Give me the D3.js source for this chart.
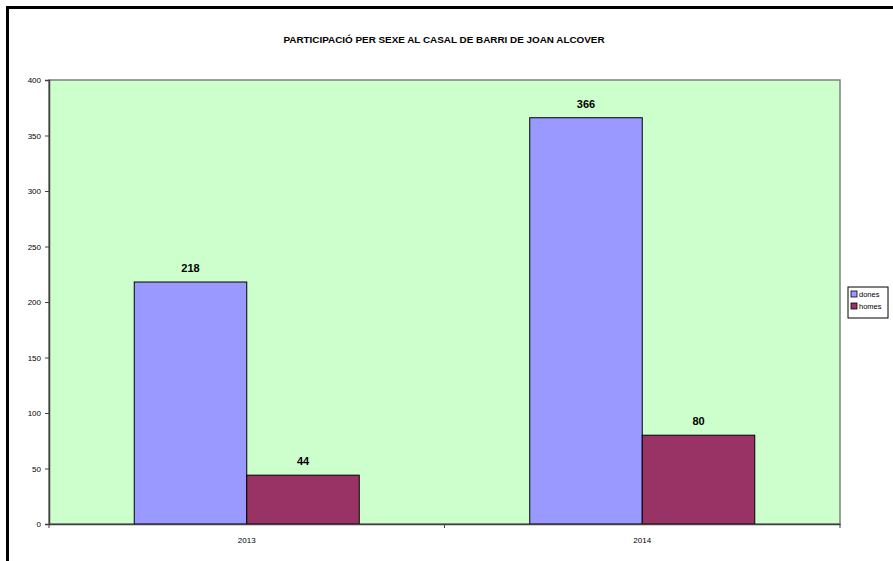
<!DOCTYPE html>
<html><head><meta charset="utf-8">
<script src="https://cdn.jsdelivr.net/npm/d3@7"></script>
<style>body{margin:0;background:#fff}svg{display:block}</style>
</head><body>
<svg id="c" width="893" height="561"></svg>
<script>
const title = "PARTICIPACIÓ PER SEXE AL CASAL DE BARRI DE JOAN ALCOVER";
const years = ["2013", "2014"];
const seriesNames = ["dones", "homes"];
const dones = [218, 366];
const homes = [44, 80];
const yTicks = [0, 50, 100, 150, 200, 250, 300, 350, 400];
const colors = ["#9999FF", "#993366"];

const svg = d3.select("#c");
const L = 49, R = 840, T = 80, B = 524;
const font = "'Liberation Sans', Arial, sans-serif";

// frame
svg.append("path").attr("d", "M7.5,561 L7.5,7.5 L893,7.5")
  .attr("fill", "none").attr("stroke", "#000").attr("stroke-width", 3);

const x0 = d3.scaleBand().domain(years).range([L, R]).paddingInner(0).paddingOuter(0);
const gapFrac = 170.5 / 395.5;
const y = d3.scaleLinear().domain([0, 400]).range([B, T]);

// plot area
svg.append("rect").attr("x", L).attr("y", T).attr("width", R - L).attr("height", B - T)
  .attr("fill", "#CCFFCC").attr("stroke", "#808080").attr("stroke-width", 1.5);

const bw = x0.bandwidth() * (1 - gapFrac) / 2;
const data = years.map((yr, i) => ({ yr, vals: [dones[i], homes[i]] }));

const g = svg.append("g");
data.forEach(d => {
  const cx = x0(d.yr) + x0.bandwidth() / 2;
  d.vals.forEach((v, j) => {
    const bx = cx - bw + j * bw;
    g.append("rect").attr("x", bx).attr("y", y(v)).attr("width", bw).attr("height", y(0) - y(v))
      .attr("fill", colors[j]).attr("stroke", "#000").attr("stroke-width", 1);
    g.append("text").attr("x", bx + bw / 2).attr("y", y(v) - 10)
      .attr("text-anchor", "middle").attr("font-family", font).attr("font-weight", "bold")
      .attr("font-size", 11).attr("fill", "#000").text(v);
  });
});

// y axis
const yAxis = d3.axisLeft(y).tickValues(yTicks).tickSize(4).tickPadding(4);
const ya = svg.append("g").attr("transform", `translate(${L},0)`).call(yAxis);
ya.select(".domain").attr("stroke", "#404040").attr("stroke-width", 1.5);
ya.selectAll(".tick line").attr("stroke", "#404040");
ya.selectAll("text").attr("font-family", font).attr("font-size", 8).attr("fill", "#000");

// x axis
const xAxis = d3.axisBottom(x0).tickSize(0).tickPadding(13);
const xa = svg.append("g").attr("transform", `translate(0,${B})`).call(xAxis);
xa.select(".domain").attr("stroke", "#404040").attr("stroke-width", 1.5);
xa.selectAll("text").attr("font-family", font).attr("font-size", 8).attr("fill", "#000");
const bounds = [L, x0("2014"), R];
xa.selectAll(".bt").data(bounds).enter().append("line")
  .attr("x1", d => d).attr("x2", d => d).attr("y1", 0).attr("y2", 4).attr("stroke", "#404040");

// title
svg.append("text").attr("x", 444).attr("y", 43).attr("text-anchor", "middle")
  .attr("font-family", font).attr("font-weight", "bold").attr("font-size", 9.9).attr("fill", "#000")
  .text(title);

// legend
const lg = svg.append("g").attr("transform", "translate(848,287)");
lg.append("rect").attr("x", 0).attr("y", 0).attr("width", 40).attr("height", 31)
  .attr("fill", "#fff").attr("stroke", "#000").attr("stroke-width", 1);
seriesNames.forEach((n, i) => {
  lg.append("rect").attr("x", 3).attr("y", 4 + i * 12).attr("width", 6).attr("height", 6)
    .attr("fill", colors[i]).attr("stroke", "#000").attr("stroke-width", 0.8);
  lg.append("text").attr("x", 11).attr("y", 10 + i * 12).attr("font-family", font)
    .attr("font-size", 7.5).attr("fill", "#000").text(n);
});
</script>
</body></html>
